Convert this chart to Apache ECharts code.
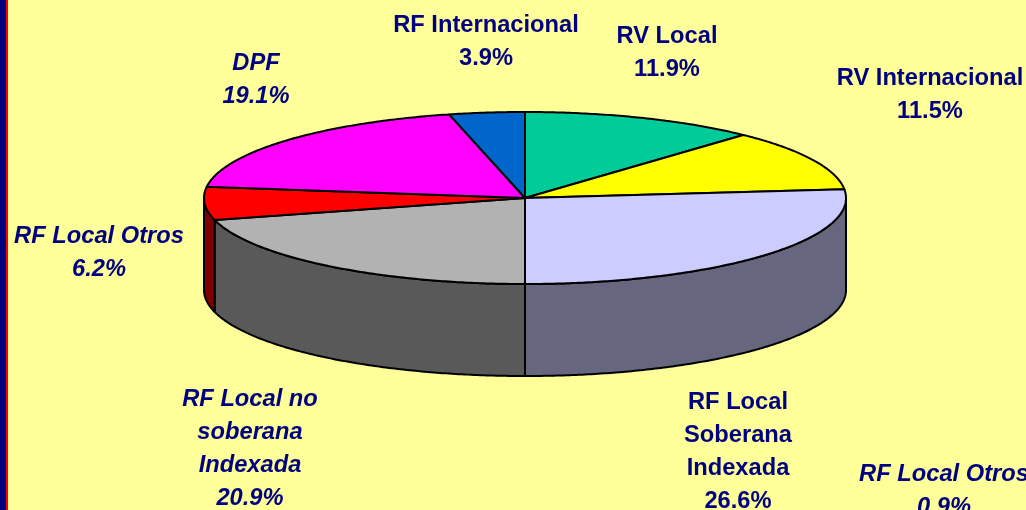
<!DOCTYPE html>
<html><head><meta charset="utf-8">
<style>html,body{margin:0;padding:0;background:#FFFF99}#c{width:1026px;height:510px}</style>
<script src="https://cdn.jsdelivr.net/npm/echarts@6/dist/echarts.min.js"></script>
</head><body><div id="c"></div>
<script>
// Slices, clockwise from 12 o'clock
const categories = ['RV Local','RV Internacional','RF Local Soberana Indexada','RF Local no soberana Indexada','RF Local Otros','DPF','RF Internacional'];
const values = [11.9,11.5,26.6,20.9,6.2,19.1,3.9];
const topColors = ['#00CC99','#FFFF00','#CCCCFF','#B2B2B2','#FF0000','#FF00FF','#0066CC'];
const wallColors = ['#006650','#7F7F00','#66667F','#595959','#7F0000','#7F007F','#003366'];
// Labels
const labelNames = ['RF Internacional','RV Local','RV Internacional','DPF','RF Local Otros','RF Local no\nsoberana\nIndexada','RF Local\nSoberana\nIndexada','RF Local Otros'];
const labelValues = [3.9,11.9,11.5,19.1,6.2,20.9,26.6,0.9];
const labelItalic = [false,false,false,true,true,true,false,true];
const labelCentres = [[486,42],[667,53],[930,95],[256,80],[99,253],[250,449],[738,452],[944,491]];

const cx=525, cy=198, rx=321, ry=86, depth=92;
const total = 100; // values are percentage shares, rounded to one decimal
const FULL = 2*Math.PI;
const starts = values.map((v,i)=>values.slice(0,i).reduce((a,b)=>a+b,0));
const pt=(a,dy)=>[cx+rx*Math.sin(a), cy-ry*Math.cos(a)+(dy||0)];
const arc=(a0,a1,dy)=>{const n=Math.max(2,Math.ceil((a1-a0)/0.01)),p=[];
  for(let k=0;k<=n;k++)p.push(pt(a0+(a1-a0)*k/n,dy));return p;};
const angle=i=>[starts[i]/total*FULL,Math.min(FULL,(starts[i]+values[i])/total*FULL)];
const stroke={stroke:'#000',lineWidth:2,lineJoin:'round'};

function renderWall(params,api){
  const i=params.dataIndex,[a0,a1]=angle(i);
  const lo=Math.max(a0,Math.PI/2), hi=Math.min(a1,3*Math.PI/2);
  if(hi<=lo) return {type:'group',children:[]};
  const pts=arc(lo,hi,0).concat(arc(lo,hi,depth).reverse());
  return {type:'polygon',shape:{points:pts},style:Object.assign({fill:wallColors[i]},stroke)};
}
function renderTop(params,api){
  const i=params.dataIndex,[a0,a1]=angle(i);
  const pts=[[cx,cy]].concat(arc(a0,a1,0));
  return {type:'polygon',shape:{points:pts},style:Object.assign({fill:topColors[i]},stroke)};
}
const seriesData=categories.map((n,i)=>({name:n,value:values[i]}));
const texts=labelNames.map((n,i)=>({
  type:'text',x:labelCentres[i][0],y:labelCentres[i][1],z:10,
  style:{text:n+'\n'+labelValues[i].toFixed(1)+'%',align:'center',verticalAlign:'middle',
    fontFamily:'"Liberation Sans",Arial,sans-serif',fontWeight:'bold',
    fontStyle:labelItalic[i]?'italic':'normal',fontSize:23.7,lineHeight:33,fill:'#000080'}
}));
const chart=echarts.init(document.getElementById('c'),null,{renderer:'canvas'});
chart.setOption({
  animation:false,backgroundColor:'#FFFF99',
  series:[
    {type:'custom',coordinateSystem:'none',renderItem:renderWall,data:seriesData,z:1,silent:true},
    {type:'custom',coordinateSystem:'none',renderItem:renderTop,data:seriesData,z:2,silent:true}
  ],
  graphic:[
    {type:'rect',shape:{x:0,y:0,width:6,height:510},style:{fill:'#000080'},z:5},
    {type:'rect',shape:{x:6,y:0,width:2,height:510},style:{fill:'#FF0000'},z:5}
  ].concat(texts)
});
</script></body></html>
